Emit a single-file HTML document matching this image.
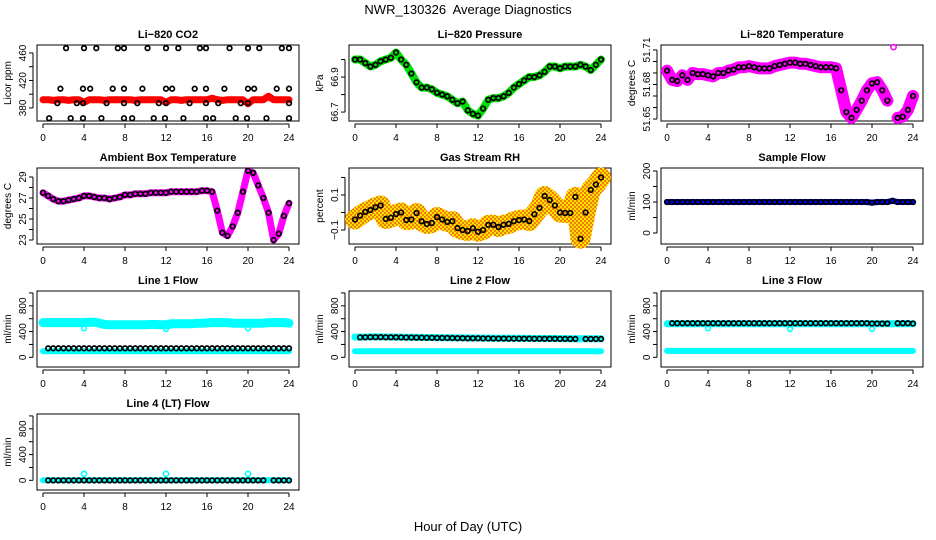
<!DOCTYPE html>
<html><head><meta charset="utf-8">
<style>
html,body{margin:0;padding:0;background:#fff;}
svg{display:block;font-family:"Liberation Sans",sans-serif;}
</style></head>
<body>
<svg id="chart" width="936" height="540" viewBox="0 0 936 540" xmlns="http://www.w3.org/2000/svg">
<defs>
<pattern id="rhpat" width="4" height="4" patternUnits="userSpaceOnUse">
<rect width="4" height="4" fill="#ffe000"/>
<rect width="2" height="2" fill="#f08000"/>
<rect x="2" y="2" width="2" height="2" fill="#f08000"/>
</pattern>
</defs>
<text x="468" y="14" text-anchor="middle" font-size="13" style="white-space:pre">NWR_130326  Average Diagnostics</text>
<text x="468" y="531" text-anchor="middle" font-size="13">Hour of Day (UTC)</text>
</svg>
<script>
const hours = [0,0.5,1,1.5,2,2.5,3,3.5,4,4.5,5,5.5,6,6.5,7,7.5,8,8.5,9,9.5,10,10.5,11,11.5,12,12.5,13,13.5,14,14.5,15,15.5,16,16.5,17,17.5,18,18.5,19,19.5,20,20.5,21,21.5,22,22.5,23,23.5,24];
const xTicks = [0,4,8,12,16,20,24];

const co2Red = [392,392,391,392,392,391,392,392,388,392,392,392,391,392,392,392,392,392,391,392,392,392,392,392,388,392,392,391,392,392,392,392,392,394,392,391,392,392,392,392,386,392,392,392,397,392,392,392,392];
const co2BlackHours = [2.25,4.0,5.2,7.3,7.9,10.2,12.0,13.2,15.3,15.9,18.2,20.0,21.1,23.3,24.0, 1.7,3.9,4.6,6.8,7.9,9.7,12.0,12.6,14.8,15.9,17.7,20.0,20.6,22.8,24.0, 1.4,3.3,3.9,6.2,7.9,9.2,11.3,12.0,14.3,15.9,17.1,19.3,20.0,24.0, 0.6,2.7,3.9,5.7,7.9,8.7,10.8,11.9,13.7,15.9,16.6,18.8,19.9,21.8,24.0];
const co2BlackValues = [467,467,467,467,467,467,467,467,467,467,467,467,467,467,467, 408,408,408,408,408,408,408,408,408,408,408,408,408,408,408, 387,387,387,387,387,387,387,387,387,387,387,387,387,387, 365,365,365,365,365,365,365,365,365,365,365,365,365,365,365];

const pressure = [67.00,67.00,66.98,66.96,66.97,66.99,67.00,67.01,67.04,67.00,66.97,66.92,66.87,66.84,66.84,66.83,66.81,66.80,66.79,66.77,66.75,66.76,66.71,66.69,66.68,66.72,66.77,66.78,66.78,66.79,66.81,66.84,66.86,66.88,66.90,66.90,66.91,66.93,66.96,66.96,66.95,66.96,66.96,66.96,66.97,66.96,66.94,66.97,67.00];

const licorTemp = [51.692,51.684,51.683,51.688,51.684,51.690,51.689,51.689,51.688,51.687,51.690,51.690,51.692,51.693,51.695,51.695,51.696,51.695,51.694,51.694,51.694,51.696,51.697,51.698,51.699,51.699,51.698,51.698,51.697,51.696,51.695,51.695,51.695,51.694,51.675,51.656,51.651,51.658,51.666,51.675,51.681,51.682,51.675,51.666,null,51.651,51.652,51.658,51.670];
const licorTempOutHours = [22.1];
const licorTempOutValues = [51.7125];

const ambientTemp = [27.5,27.2,26.9,26.7,26.7,26.8,26.9,27.0,27.2,27.2,27.1,27.0,27.0,26.9,27.0,27.1,27.3,27.3,27.4,27.4,27.4,27.5,27.5,27.5,27.5,27.6,27.6,27.6,27.6,27.6,27.6,27.7,27.7,27.6,25.8,23.7,23.4,24.3,25.6,27.6,29.6,29.4,28.2,27.0,25.6,23.0,23.6,25.3,26.5];

const gasRH = [-0.04,-0.018,0.003,0.014,0.03,0.04,-0.037,-0.03,-0.009,0.0,-0.043,-0.04,-0.003,-0.05,-0.066,-0.06,-0.026,-0.04,-0.054,-0.05,-0.089,-0.1,-0.106,-0.09,-0.11,-0.1,-0.071,-0.07,-0.083,-0.07,-0.065,-0.05,-0.043,-0.04,-0.049,-0.01,0.026,0.094,0.071,0.04,0.0,-0.003,-0.003,0.089,-0.15,0.0,0.129,0.16,0.2];

const sampleFlow = [100,100,100,100,100,100,100,100,100,100,100,100,100,100,100,100,100,100,100,100,100,100,100,100,100,100,100,100,100,100,100,100,100,100,100,100,100,100,100,100,98,100,100,100,104,100,100,100,100];

const line1High = [540,540,540,540,540,540,540,540,540,545,545,530,510,505,505,505,505,505,505,505,505,510,510,505,505,520,520,520,520,520,530,530,535,540,540,540,540,530,530,530,530,530,530,530,540,540,540,540,530];
const line1Low = [95,95,95,95,95,95,95,95,95,95,95,95,95,95,95,95,95,95,95,95,95,95,95,95,95,95,95,95,95,95,95,95,95,95,95,95,95,95,95,95,95,95,95,95,95,95,95,95,95];
const line1Black = [null,140,140,140,140,140,140,140,140,140,140,140,140,140,140,140,140,140,140,140,140,140,140,140,140,140,140,140,140,140,140,140,140,140,140,140,140,140,140,140,140,140,140,140,140,140,140,140,140];

const line2High = [315,315,315,318,318,318,316,316,315,314,312,312,310,310,308,308,306,305,305,304,302,302,300,300,300,298,298,297,296,296,295,295,295,294,294,293,293,292,292,292,291,291,290,290,290,290,290,290,290];
const line2Low = [95,95,95,95,95,95,95,95,95,95,95,95,95,95,95,95,95,95,95,95,95,95,95,95,95,95,95,95,95,95,95,95,95,95,95,95,95,95,95,95,95,95,95,95,95,95,95,95,95];
const line2Black = [null,310,312,314,314,314,312,312,311,310,308,308,306,306,304,304,302,301,301,300,298,298,296,296,296,294,294,293,292,292,291,291,291,290,290,289,289,288,288,288,287,287,286,286,null,286,286,286,286];

const line3High = [520,520,520,520,520,520,520,520,520,520,520,520,520,520,520,520,520,520,520,520,520,520,520,520,520,520,520,520,520,520,520,520,520,520,520,520,520,520,520,520,520,520,520,520,520,520,520,520,520];
const line3Low = [100,100,100,100,100,100,100,100,100,100,100,100,100,100,100,100,100,100,100,100,100,100,100,100,100,100,100,100,100,100,100,100,100,100,100,100,100,100,100,100,100,100,100,100,100,100,100,100,100];
const line3Black = [null,530,530,530,530,530,530,530,530,530,530,530,530,530,530,530,530,530,530,530,530,530,530,530,530,530,530,530,530,530,530,530,530,530,530,530,530,530,530,530,525,525,525,525,null,530,530,530,525];

const line4Cyan = [0,0,0,0,0,0,0,0,0,0,0,0,0,0,0,0,0,0,0,0,0,0,0,0,0,0,0,0,0,0,0,0,0,0,0,0,0,0,0,0,0,0,0,0,0,0,0,0,0];
const line4Black = [null,0,0,0,0,0,0,0,0,0,0,0,0,0,0,0,0,0,0,0,0,0,0,0,0,0,0,0,0,0,0,0,0,0,0,0,0,0,0,0,0,0,0,0,null,0,0,0,0];

const dipHours = [4,12,20];
const line1DipValues = [450,440,450];
const line3DipValues = [450,440,440];
const line4OutValues = [100,100,100];

const NS = "http://www.w3.org/2000/svg";
const svg = document.getElementById("chart");
const colLeft = [37,349,661];
const rowTop = [45,168,291,414];
const boxW = 262, boxH = 76;

function mk(tag, attrs, parent){
  const e = document.createElementNS(NS, tag);
  for (const k in attrs) e.setAttribute(k, attrs[k]);
  (parent||svg).appendChild(e);
  return e;
}

function panel(opt){
  const L = colLeft[opt.col], T = rowTop[opt.row];
  const g = mk("g", {});
  
  
  const xs = h => L + 6 + h * 10.25;
  const ys = v => T + boxH - (v - opt.lo) / (opt.hi - opt.lo) * boxH;
  const p = {g, xs, ys, L, T};
  const t = mk("text", {x: L + boxW/2, y: T - 7, "text-anchor": "middle", "font-size": 11, "font-weight": "bold"}, g);
  t.textContent = opt.title;
  
  
  const b = mk("rect", {x: L, y: T, width: boxW, height: boxH, fill: "none", stroke: "#000", "stroke-width": 1}, g);
  
  
  const xa = mk("g", {}, g);
  
  
  mk("line", {x1: xs(0), x2: xs(24), y1: T + boxH + 3, y2: T + boxH + 3, stroke: "#000"}, xa);
  xTicks.forEach(h => {
    mk("line", {x1: xs(h), x2: xs(h), y1: T + boxH + 3, y2: T + boxH + 7, stroke: "#000"}, xa);
    const lb = mk("text", {x: xs(h), y: T + boxH + 20, "text-anchor": "middle", "font-size": 10}, xa);
    lb.textContent = h;
    
    
  });
  const ya = mk("g", {}, g);
  
  
  const ax = L - 4;
  mk("line", {x1: ax, x2: ax, y1: ys(opt.ticks[0]), y2: ys(opt.ticks[opt.ticks.length-1]), stroke: "#000"}, ya);
  opt.ticks.forEach(v => {
    mk("line", {x1: ax - 4, x2: ax, y1: ys(v), y2: ys(v), stroke: "#000"}, ya);
  });
  opt.labels.forEach((v, i) => {
    const lb = mk("text", {x: ax - 7, y: ys(v), "text-anchor": "middle", "font-size": 10, transform: `rotate(-90 ${ax-7} ${ys(v)})`}, ya);
    lb.textContent = opt.labelText[i];
    
    
  });
  const yt = mk("text", {x: L - 26, y: T + boxH/2, "text-anchor": "middle", "font-size": 10, transform: `rotate(-90 ${L-26} ${T+boxH/2})`}, g);
  yt.textContent = opt.ylab;
  
  
  return p;
}

function band(p, xv, yv, color, width, name){
  let d = "", pen = false;
  for (let i = 0; i < xv.length; i++){
    if (yv[i] === null) { pen = false; continue; }
    d += (pen ? "L" : "M") + p.xs(xv[i]).toFixed(1) + " " + p.ys(yv[i]).toFixed(1);
    pen = true;
  }
  const path = mk("path", {d, fill: "none", stroke: color, "stroke-width": width, "stroke-linejoin": "round", "stroke-linecap": "round"}, p.g);
  
  
}

function points(p, xv, yv, color, r, sw, name){
  const g = mk("g", {}, p.g);
  
  
  for (let i = 0; i < xv.length; i++){
    if (yv[i] === null) continue;
    const c = mk("circle", {cx: p.xs(xv[i]), cy: p.ys(yv[i]), r, fill: "none", stroke: color, "stroke-width": sw}, g);
    
    
  }
}

const flowTicks = [0,200,400,600,800,1000];
const flowLabels = [0,400,800];

let p = panel({col:0,row:0,name:"co2",title:"Li\u2212820 CO2",ylab:"Licor ppm",lo:361,hi:471.6,ticks:[380,400,420,440,460],labels:[380,420,460],labelText:["380","420","460"]});
band(p, hours, co2Red, "#ff0000", 7, "co2-red-series");
points(p, co2BlackHours, co2BlackValues, "#000", 2.3, 1.7, "co2-black-points");

p = panel({col:1,row:0,name:"pressure",title:"Li\u2212820 Pressure",ylab:"kPa",lo:66.649,hi:67.083,ticks:[66.7,66.8,66.9,67.0],labels:[66.7,66.9],labelText:["66.7","66.9"]});
band(p, hours, pressure, "#00e000", 8, "pressure-green-series");
points(p, hours, pressure, "#000", 2.3, 1.7, "pressure-black-points");

p = panel({col:2,row:0,name:"licor-temp",title:"Li\u2212820 Temperature",ylab:"degrees C",lo:51.6483,hi:51.7143,ticks:[51.65,51.66,51.67,51.68,51.69,51.70,51.71],labels:[51.65,51.68,51.71],labelText:["51.65","51.68","51.71"]});
band(p, hours, licorTemp, "#ff00ff", 12, "licor-temp-magenta-series");
points(p, licorTempOutHours, licorTempOutValues, "#ff00ff", 2.6, 1.5, "licor-temp-outlier");
points(p, hours, licorTemp, "#000", 2.3, 1.7, "licor-temp-black-points");

p = panel({col:0,row:1,name:"ambient-temp",title:"Ambient Box Temperature",ylab:"degrees C",lo:22.62,hi:29.857,ticks:[23,24,25,26,27,28,29],labels:[23,25,27,29],labelText:["23","25","27","29"]});
band(p, hours, ambientTemp, "#ff00ff", 7, "ambient-temp-magenta-series");
points(p, hours, ambientTemp, "#000", 2.3, 1.7, "ambient-temp-black-points");

p = panel({col:1,row:1,name:"gas-rh",title:"Gas Stream RH",ylab:"percent",lo:-0.18,hi:0.254,ticks:[-0.1,0,0.1,0.2],labels:[-0.1,0.1],labelText:["\u22120.1","0.1"]});
band(p, hours, gasRH, "url(#rhpat)", 20, "gas-rh-orange-series");
points(p, hours, gasRH, "#000", 2.3, 1.7, "gas-rh-black-points");

p = panel({col:2,row:1,name:"sample-flow",title:"Sample Flow",ylab:"ml/min",lo:-35.5,hi:209.7,ticks:[0,50,100,150,200],labels:[0,100,200],labelText:["0","100","200"]});
band(p, hours, sampleFlow, "#0000ff", 6, "sample-flow-blue-series");
points(p, hours, sampleFlow, "#000", 2.3, 1.7, "sample-flow-black-points");

p = panel({col:0,row:2,name:"line1-flow",title:"Line 1 Flow",ylab:"ml/min",lo:-150,hi:1030,ticks:flowTicks,labels:flowLabels,labelText:["0","400","800"]});
band(p, hours, line1High, "#00ffff", 9, "line1-cyan-high-series");
band(p, hours, line1Low, "#00ffff", 6, "line1-cyan-low-series");
points(p, dipHours, line1DipValues, "#00ffff", 2.4, 1.5, "line1-cyan-dips");
points(p, hours, line1Black, "#000", 2.3, 1.7, "line1-black-points");

p = panel({col:1,row:2,name:"line2-flow",title:"Line 2 Flow",ylab:"ml/min",lo:-150,hi:1030,ticks:flowTicks,labels:flowLabels,labelText:["0","400","800"]});
band(p, hours, line2High, "#00ffff", 7, "line2-cyan-high-series");
band(p, hours, line2Low, "#00ffff", 6, "line2-cyan-low-series");
points(p, hours, line2Black, "#000", 2.3, 1.7, "line2-black-points");

p = panel({col:2,row:2,name:"line3-flow",title:"Line 3 Flow",ylab:"ml/min",lo:-150,hi:1030,ticks:flowTicks,labels:flowLabels,labelText:["0","400","800"]});
band(p, hours, line3High, "#00ffff", 7, "line3-cyan-high-series");
band(p, hours, line3Low, "#00ffff", 6, "line3-cyan-low-series");
points(p, dipHours, line3DipValues, "#00ffff", 2.4, 1.5, "line3-cyan-dips");
points(p, hours, line3Black, "#000", 2.3, 1.7, "line3-black-points");

p = panel({col:0,row:3,name:"line4-flow",title:"Line 4 (LT) Flow",ylab:"ml/min",lo:-150,hi:1030,ticks:flowTicks,labels:flowLabels,labelText:["0","400","800"]});
band(p, hours, line4Cyan, "#00ffff", 6, "line4-cyan-series");
points(p, dipHours, line4OutValues, "#00ffff", 2.6, 1.6, "line4-cyan-outliers");
points(p, hours, line4Black, "#000", 2.3, 1.7, "line4-black-points");
</script>
</body></html>
